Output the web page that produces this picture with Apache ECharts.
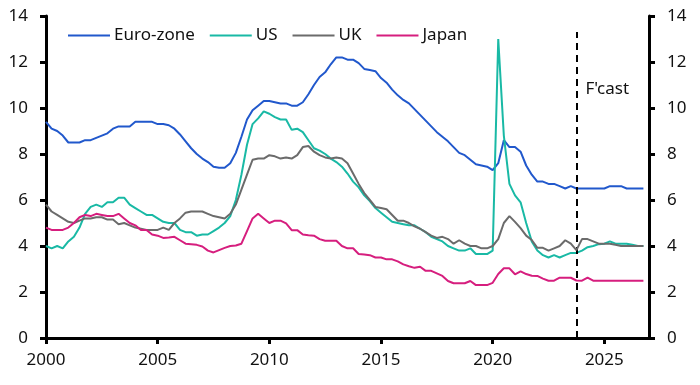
<!DOCTYPE html>
<html>
<head>
<meta charset="utf-8">
<script src="https://cdn.jsdelivr.net/npm/echarts@6/dist/echarts.min.js"></script>
<style>
html,body{margin:0;padding:0;background:#fff;}
#c{width:700px;height:385px;}
</style>
</head>
<body>
<div id="c"></div>
<script>
// Quarterly unemployment rates (%), 2000Q1 .. 2026Q4
const startYear = 2000;
const seriesNames = ['Euro-zone', 'US', 'UK', 'Japan'];
const xTicks = [2000, 2005, 2010, 2015, 2020, 2025];
const yTicks = [0, 2, 4, 6, 8, 10, 12, 14];
const forecastStart = 2023.75;
const forecastLabel = "F'cast";

const euroZone = [
  9.4, 9.1, 9.0, 8.8,
  8.5, 8.5, 8.5, 8.6,
  8.6, 8.7, 8.8, 8.9,
  9.1, 9.2, 9.2, 9.2,
  9.4, 9.4, 9.4, 9.4,
  9.3, 9.3, 9.25, 9.1,
  8.85, 8.55, 8.25, 8.0,
  7.8, 7.65, 7.45, 7.4,
  7.4, 7.6, 8.05, 8.75,
  9.5, 9.9, 10.1, 10.3,
  10.3, 10.25, 10.2, 10.2,
  10.1, 10.1, 10.25, 10.6,
  11.0, 11.35, 11.55, 11.9,
  12.2, 12.2, 12.1, 12.1,
  11.95, 11.7, 11.65, 11.6,
  11.3, 11.1, 10.8, 10.55,
  10.35, 10.2, 9.95, 9.7,
  9.45, 9.2, 8.95, 8.75,
  8.55, 8.3, 8.05, 7.95,
  7.75, 7.55, 7.5, 7.45,
  7.3, 7.6, 8.6, 8.3,
  8.3, 8.1, 7.5, 7.1,
  6.8, 6.8, 6.7, 6.7,
  6.6, 6.5, 6.6, 6.5,
  6.5, 6.5, 6.5, 6.5,
  6.5, 6.6, 6.6, 6.6,
  6.5, 6.5, 6.5, 6.5
];
const us = [
  4.0, 3.9, 4.0, 3.9,
  4.2, 4.4, 4.8, 5.4,
  5.7, 5.8, 5.7, 5.9,
  5.9, 6.1, 6.1, 5.8,
  5.65, 5.5, 5.35, 5.35,
  5.2, 5.05, 5.0, 5.0,
  4.7, 4.6, 4.6, 4.45,
  4.5, 4.5, 4.65, 4.8,
  5.0, 5.3, 6.0, 7.1,
  8.4, 9.3, 9.55, 9.85,
  9.75, 9.6, 9.5, 9.5,
  9.05, 9.1, 8.95, 8.6,
  8.25, 8.15, 8.0, 7.8,
  7.65, 7.45, 7.15, 6.8,
  6.55, 6.2, 5.95, 5.65,
  5.45, 5.25, 5.05, 5.0,
  4.95, 4.9, 4.9, 4.75,
  4.6, 4.4, 4.3, 4.2,
  4.0, 3.9, 3.8, 3.8,
  3.9, 3.65, 3.65, 3.65,
  3.8, 13.0, 8.8, 6.7,
  6.2, 5.9, 5.0, 4.2,
  3.8, 3.6, 3.5, 3.6,
  3.5, 3.6, 3.7, 3.7,
  3.8, 3.95, 4.0, 4.08,
  4.1, 4.2, 4.1, 4.1,
  4.1, 4.05, 4.0, 4.0
];
const uk = [
  5.8, 5.5, 5.35, 5.2,
  5.05, 5.0, 5.1, 5.2,
  5.2, 5.25, 5.25, 5.15,
  5.15, 4.95, 5.0, 4.9,
  4.8, 4.75, 4.7, 4.7,
  4.7, 4.8, 4.7, 5.0,
  5.2, 5.45, 5.5, 5.5,
  5.5, 5.4, 5.3, 5.25,
  5.2, 5.4, 5.8, 6.45,
  7.1, 7.75, 7.8, 7.8,
  7.95, 7.9, 7.8, 7.85,
  7.8, 7.95, 8.3, 8.35,
  8.1, 7.95, 7.85, 7.8,
  7.85, 7.8, 7.6, 7.15,
  6.7, 6.3, 6.0, 5.7,
  5.65, 5.6, 5.35, 5.1,
  5.1, 5.0, 4.85, 4.75,
  4.6, 4.45, 4.35, 4.4,
  4.3, 4.1, 4.25, 4.1,
  4.0, 4.0, 3.9, 3.9,
  4.0, 4.3, 5.0, 5.3,
  5.05, 4.78, 4.45, 4.26,
  3.92, 3.92, 3.8, 3.9,
  4.0, 4.25, 4.1, 3.82,
  4.3, 4.3, 4.2, 4.1,
  4.1, 4.1, 4.05, 4.0,
  4.0, 4.0, 4.0, 4.0
];
const japan = [
  4.8, 4.7, 4.7, 4.7,
  4.8, 5.0, 5.25, 5.35,
  5.3, 5.4, 5.35, 5.3,
  5.3, 5.4, 5.2, 5.0,
  4.9, 4.7, 4.7, 4.5,
  4.45, 4.35, 4.37, 4.4,
  4.25, 4.1, 4.08, 4.05,
  3.98, 3.8, 3.72, 3.82,
  3.92, 4.0, 4.02, 4.1,
  4.65, 5.2, 5.4, 5.2,
  5.0, 5.1, 5.1, 4.98,
  4.69, 4.69, 4.5, 4.47,
  4.45, 4.3, 4.23, 4.23,
  4.23, 4.0, 3.9, 3.9,
  3.65, 3.63, 3.6, 3.5,
  3.5, 3.42, 3.42, 3.33,
  3.2, 3.12, 3.05, 3.1,
  2.92, 2.92, 2.81, 2.7,
  2.48, 2.38, 2.38, 2.38,
  2.48, 2.3, 2.3, 2.3,
  2.4, 2.78, 3.03, 3.03,
  2.77, 2.9, 2.78, 2.71,
  2.7, 2.58, 2.49, 2.49,
  2.62, 2.62, 2.62, 2.5,
  2.49, 2.62, 2.49, 2.49,
  2.49, 2.49, 2.49, 2.49,
  2.49, 2.49, 2.49, 2.49
];

const colors = ['#2158cc', '#19b9a5', '#6b6b6b', '#d61e7e'];
const FONT = 'Noto Sans';

function toPairs(arr) {
  return arr.map((v, i) => [startYear + i * 0.25, v]);
}

const chart = echarts.init(document.getElementById('c'), null, {renderer: 'canvas'});

const axisCommon = {
  axisLine: {show: true, lineStyle: {color: '#000', width: 3}},
  axisTick: {show: true, inside: false, length: 6, lineStyle: {color: '#000', width: 3}},
  splitLine: {show: false},
  axisLabel: {color: '#111', fontSize: 17, fontFamily: FONT}
};

const allData = [euroZone, us, uk, japan];
const series = seriesNames.map((name, k) => ({
  name: name,
  type: 'line',
  data: toPairs(allData[k]),
  symbol: 'none',
  showSymbol: false,
  smooth: false,
  lineStyle: {color: colors[k], width: 2},
  itemStyle: {color: colors[k]},
  z: 3 + k,
  animation: false
}));

// forecast divider
series[0].markLine = {
  silent: true,
  symbol: ['none', 'none'],
  label: {show: false},
  lineStyle: {color: '#000', width: 2, type: [7, 5]},
  data: [[{coord: [forecastStart, 0]}, {coord: [forecastStart, 13.3]}]],
  animation: false
};
series[0].markPoint = {
  silent: true,
  symbol: 'circle',
  symbolSize: 0,
  data: [{coord: [forecastStart, 10.8]}],
  label: {
    show: true,
    position: 'right',
    distance: 9,
    formatter: forecastLabel,
    color: '#111',
    fontSize: 17,
    fontFamily: FONT
  },
  animation: false
};

chart.setOption({
  animation: false,
  backgroundColor: '#fff',
  color: colors,
  grid: {left: 46, right: 51, top: 16, bottom: 47, containLabel: false},
  legend: {
    show: true,
    left: 63,
    top: 22,
    itemWidth: 42,
    itemHeight: 14,
    itemGap: 15,
    icon: 'path://M0,6 L42,6 L42,8 L0,8 Z',
    textStyle: {color: '#111', fontSize: 17, fontFamily: FONT, padding: [0, 0, 0, -1]},
    data: seriesNames
  },
  xAxis: {
    type: 'value',
    min: 2000,
    max: 2027,
    interval: 5,
    ...axisCommon,
    axisLabel: {
      ...axisCommon.axisLabel,
      margin: 14,
      showMaxLabel: false,
      formatter: v => (xTicks.indexOf(v) >= 0 ? String(v) : '')
    }
  },
  yAxis: [
    {
      type: 'value', position: 'left', min: 0, max: 14, interval: 2,
      ...axisCommon,
      axisLabel: {...axisCommon.axisLabel, margin: 18, formatter: v => (yTicks.indexOf(v) >= 0 ? String(v) : '')}
    },
    {
      type: 'value', position: 'right', min: 0, max: 14, interval: 2,
      ...axisCommon,
      axisLabel: {...axisCommon.axisLabel, margin: 18, formatter: v => (yTicks.indexOf(v) >= 0 ? String(v) : '')}
    }
  ],
  series: series
});
</script>
</body>
</html>
